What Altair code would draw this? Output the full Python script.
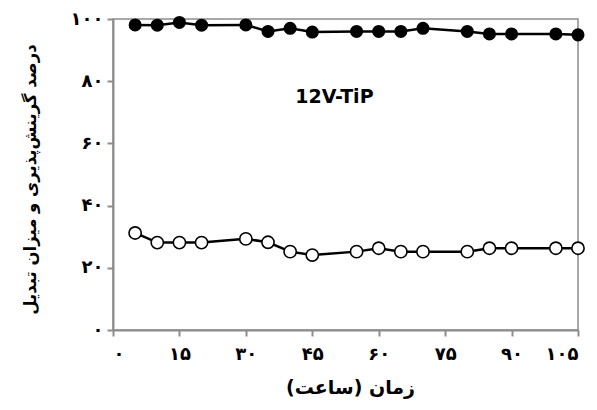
import json
import altair as alt
import pandas as pd

# Time (hours)
hours = [5, 10, 15, 20, 30, 35, 40, 45, 55, 60, 65, 70, 80, 85, 90, 100, 105]
# Selectivity (filled) and conversion (open)
selectivity = [98.1, 98.0, 98.9, 98.0, 98.1, 96.0, 97.0, 95.8, 96.0, 96.0, 96.0, 97.0, 96.0, 95.2, 95.2, 95.2, 94.9]
conversion = [31.2, 28.1, 28.1, 28.1, 29.3, 28.2, 25.2, 24.1, 25.2, 26.3, 25.2, 25.2, 25.2, 26.3, 26.3, 26.3, 26.3]

x_ticks = [0, 15, 30, 45, 60, 75, 90, 105]
x_labels = ["۰", "۱۵", "۳۰", "۴۵", "۶۰", "۷۵", "۹۰", "۱۰۵"]
y_ticks = [0, 20, 40, 60, 80, 100]
y_labels = ["۰", "۲۰", "۴۰", "۶۰", "۸۰", "۱۰۰"]

x_title = "زمان (ساعت)"
y_title = "درصد گرینش‌پذیری و میزان تبدیل"
annotation = ["12V-TiP"]
annotation_x = [50]
annotation_y = [75]

df = pd.DataFrame({
    "hour": hours * 2,
    "value": selectivity + conversion,
    "series": ["sel"] * len(hours) + ["conv"] * len(hours),
})
ann = pd.DataFrame({"x": annotation_x, "y": annotation_y, "t": annotation})

FONT = "DejaVu Sans"
x_expr = json.dumps(x_labels, ensure_ascii=False) + "[round(datum.value/15)]"
y_expr = json.dumps(y_labels, ensure_ascii=False) + "[round(datum.value/20)]"

xenc = alt.X("hour:Q", scale=alt.Scale(domain=[0, 105], nice=False),
             axis=alt.Axis(values=x_ticks, labelExpr=x_expr, title=x_title,
                           grid=False, tickSize=6, labelPadding=9,
                           labelFontSize=18, labelFont=FONT, labelFontWeight="bold",
                           titleFont=FONT, titleFontSize=19, titleFontWeight="bold",
                           titleX=237, titleY=57, titleBaseline="middle",
                           domainColor="#8c8c8c", domainWidth=2, tickColor="#8c8c8c",
                           tickWidth=2, labelColor="black", titleColor="black"))
yenc = alt.Y("value:Q", scale=alt.Scale(domain=[0, 100], nice=False),
             axis=alt.Axis(values=y_ticks, labelExpr=y_expr, title=y_title,
                           grid=False, tickSize=6, labelPadding=4,
                           labelFontSize=18, labelFont=FONT, labelFontWeight="bold",
                           titleFont=FONT, titleFontSize=16.5, titleFontWeight="bold",
                           titleX=-83, titleY=160, titleBaseline="middle", titleAlign="center",
                           titleAngle=270,
                           domainColor="#8c8c8c", domainWidth=2, tickColor="#8c8c8c",
                           tickWidth=2, labelColor="black", titleColor="black"))

lines = alt.Chart(df).mark_line(color="black", strokeWidth=2.5).encode(
    x=xenc, y=yenc, detail="series:N")

filled = alt.Chart(df).transform_filter(alt.datum.series == "sel").mark_point(
    shape="circle", filled=True, color="black", size=170, opacity=1).encode(x="hour:Q", y="value:Q")

hollow = alt.Chart(df).transform_filter(alt.datum.series == "conv").mark_point(
    shape="circle", filled=True, fill="white", stroke="black", strokeWidth=1.6,
    size=150, opacity=1).encode(x="hour:Q", y="value:Q")

label = alt.Chart(ann).mark_text(font=FONT, fontSize=19, fontWeight="bold",
                                 color="black", align="center", baseline="middle").encode(
    x="x:Q", y="y:Q", text="t:N")

chart = alt.layer(lines, filled, hollow, label).properties(
    width=465, height=311,
    autosize=alt.AutoSizeParams(type="none"),
    padding={"left": 105, "top": 11, "right": 8, "bottom": 80},
).configure_view(stroke="#8c8c8c", strokeWidth=1.5)

chart.save("out.html", embed_options={"renderer": "svg", "actions": False})
